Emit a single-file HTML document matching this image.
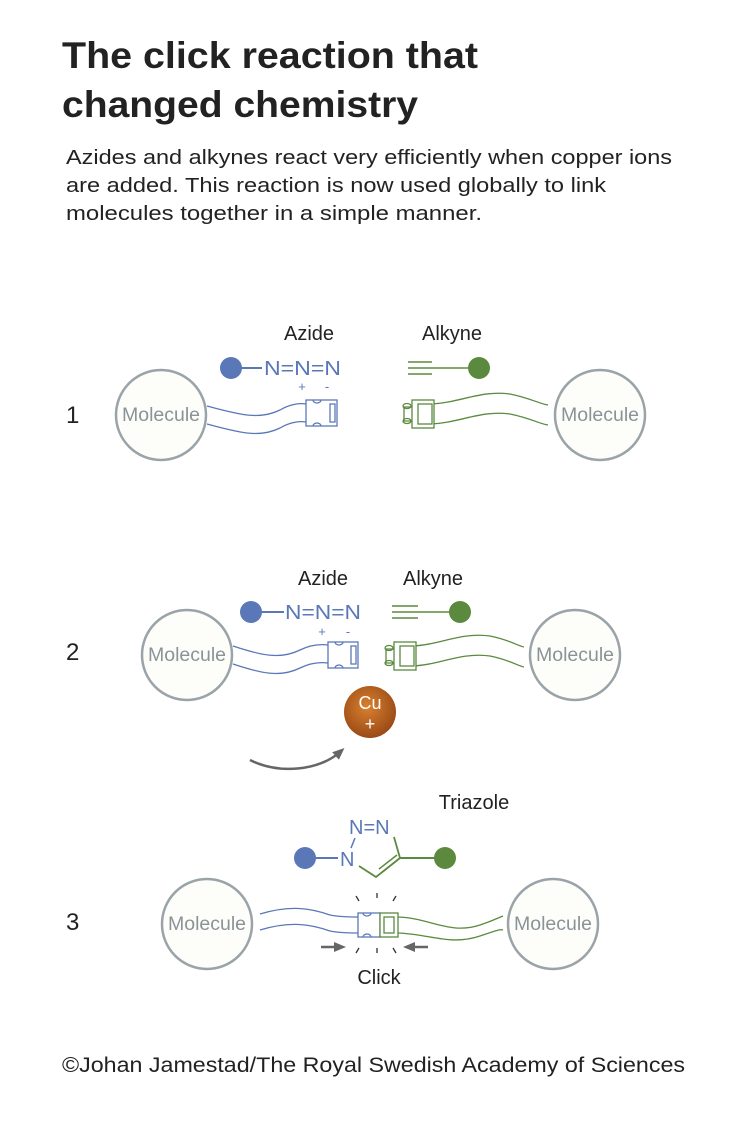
<!DOCTYPE html>
<html><head><meta charset="utf-8"><style>
html,body{margin:0;padding:0;background:#fff;width:754px;height:1123px;overflow:hidden}
svg{display:block}
text{font-family:"Liberation Sans","DejaVu Sans",sans-serif}
</style></head><body>
<svg width="754" height="1123" viewBox="0 0 754 1123" xmlns="http://www.w3.org/2000/svg">
<defs>
<radialGradient id="cu" cx="0.45" cy="0.4" r="0.6">
<stop offset="0" stop-color="#d9802f"/><stop offset="1" stop-color="#9a4a16"/>
</radialGradient>
<marker id="ah" markerUnits="userSpaceOnUse" markerWidth="12" markerHeight="10" refX="6" refY="5" orient="auto"><path d="M0,0 L12,5 L0,10 Z" fill="#666"/></marker>
</defs>
<text x="62" y="68" font-size="37" font-weight="bold" fill="#222" textLength="416" lengthAdjust="spacingAndGlyphs">The click reaction that</text>
<text x="62" y="117" font-size="37" font-weight="bold" fill="#222" textLength="356" lengthAdjust="spacingAndGlyphs">changed chemistry</text>
<text x="66" y="164" font-size="20" fill="#222" textLength="606" lengthAdjust="spacingAndGlyphs">Azides and alkynes react very efficiently when copper ions</text>
<text x="66" y="192" font-size="20" fill="#222" textLength="540" lengthAdjust="spacingAndGlyphs">are added. This reaction is now used globally to link</text>
<text x="66" y="220" font-size="20" fill="#222" textLength="416" lengthAdjust="spacingAndGlyphs">molecules together in a simple manner.</text>

<g fill="#fdfdfa" stroke="#9aa3a8" stroke-width="2.5">
<circle cx="161" cy="415" r="45"/><circle cx="600" cy="415" r="45"/>
<circle cx="187" cy="655" r="45"/><circle cx="575" cy="655" r="45"/>
<circle cx="207" cy="924" r="45"/><circle cx="553" cy="924" r="45"/>
</g>
<g font-size="19" fill="#8a9398" text-anchor="middle">
<text x="161" y="421" textLength="78" lengthAdjust="spacingAndGlyphs">Molecule</text><text x="600" y="421" textLength="78" lengthAdjust="spacingAndGlyphs">Molecule</text>
<text x="187" y="661" textLength="78" lengthAdjust="spacingAndGlyphs">Molecule</text><text x="575" y="661" textLength="78" lengthAdjust="spacingAndGlyphs">Molecule</text>
<text x="207" y="930" textLength="78" lengthAdjust="spacingAndGlyphs">Molecule</text><text x="553" y="930" textLength="78" lengthAdjust="spacingAndGlyphs">Molecule</text>
</g>
<g font-size="24" fill="#222">
<text x="66" y="423">1</text><text x="66" y="660">2</text><text x="66" y="930">3</text>
</g>
<g font-size="20" fill="#222" text-anchor="middle">
<text x="309" y="340">Azide</text><text x="452" y="340">Alkyne</text>
<text x="323" y="585">Azide</text><text x="433" y="585">Alkyne</text>
<text x="474" y="809">Triazole</text><text x="379" y="984">Click</text>
</g>

<!-- Panel 1 -->
<circle cx="231" cy="368" r="11" fill="#5a78b8"/>
<line x1="240" y1="368" x2="262" y2="368" stroke="#5a78b8" stroke-width="2"/>
<text x="264" y="375" font-size="20" fill="#5a78b8" textLength="77" lengthAdjust="spacingAndGlyphs">N=N=N</text>
<text x="302" y="391" font-size="13" fill="#5a78b8" text-anchor="middle">+</text>
<text x="327" y="391" font-size="13" fill="#5a78b8" text-anchor="middle">-</text>
<g stroke="#5a78b8" fill="none" stroke-width="1.3">
<path d="M207,406 C240,415 260,420 280,410 C290,404 300,403 306,404"/>
<path d="M207,424 C240,433 260,438 280,428 C290,422 300,421 306,422"/>
<rect x="306" y="400" width="31" height="26" fill="#fff"/>
<rect x="330" y="404" width="5" height="18"/>
<path d="M313,400 a4,3 0 0 0 8,0 M313,426 a4,3 0 0 1 8,0"/>
</g>
<g stroke="#5b8a3e" fill="none" stroke-width="1.5">
<line x1="408" y1="362" x2="432" y2="362"/><line x1="408" y1="368" x2="468" y2="368"/><line x1="408" y1="374" x2="432" y2="374"/>
</g>
<circle cx="479" cy="368" r="11" fill="#5b8a3e"/>
<g stroke="#5b8a3e" fill="none" stroke-width="1.3">
<path d="M430,404 C460,403 480,390 510,394 C530,398 540,404 548,405"/>
<path d="M430,424 C460,423 480,410 510,414 C530,418 540,424 548,425"/>
<rect x="412" y="400" width="22" height="28" fill="#fff"/>
<rect x="418" y="404" width="14" height="20"/>
<path d="M412,407 h-8 v14 h8"/>
<ellipse cx="407" cy="406" rx="4" ry="2.5"/><ellipse cx="407" cy="421" rx="4" ry="2.5"/>
</g>

<!-- Panel 2 -->
<circle cx="251" cy="612" r="11" fill="#5a78b8"/>
<line x1="260" y1="612" x2="284" y2="612" stroke="#5a78b8" stroke-width="2"/>
<text x="285" y="619" font-size="20" fill="#5a78b8" textLength="76" lengthAdjust="spacingAndGlyphs">N=N=N</text>
<text x="322" y="636" font-size="13" fill="#5a78b8" text-anchor="middle">+</text>
<text x="348" y="636" font-size="13" fill="#5a78b8" text-anchor="middle">-</text>
<g stroke="#5a78b8" fill="none" stroke-width="1.3">
<path d="M233,646 C260,655 280,660 300,650 C310,645 320,644 328,645"/>
<path d="M233,664 C260,673 280,678 300,668 C310,663 320,662 328,663"/>
<rect x="328" y="642" width="30" height="26" fill="#fff"/>
<rect x="351" y="646" width="5" height="18"/>
<path d="M335,642 a4,3 0 0 0 8,0 M335,668 a4,3 0 0 1 8,0"/>
</g>
<g stroke="#5b8a3e" fill="none" stroke-width="1.5">
<line x1="392" y1="606" x2="418" y2="606"/><line x1="392" y1="612" x2="450" y2="612"/><line x1="392" y1="618" x2="418" y2="618"/>
</g>
<circle cx="460" cy="612" r="11" fill="#5b8a3e"/>
<g stroke="#5b8a3e" fill="none" stroke-width="1.3">
<path d="M412,646 C440,645 460,632 490,636 C510,640 518,646 524,647"/>
<path d="M412,666 C440,665 460,652 490,656 C510,660 518,666 524,667"/>
<rect x="394" y="642" width="22" height="28" fill="#fff"/>
<rect x="400" y="646" width="14" height="20"/>
<path d="M394,649 h-8 v14 h8"/>
<ellipse cx="389" cy="648" rx="4" ry="2.5"/><ellipse cx="389" cy="663" rx="4" ry="2.5"/>
</g>
<circle cx="370" cy="712" r="26" fill="url(#cu)"/>
<text x="370" y="709" font-size="18" fill="#fff" text-anchor="middle">Cu</text>
<text x="370" y="730" font-size="18" fill="#fff" text-anchor="middle">+</text>
<path d="M250,760 C280,775 320,770 340,752" stroke="#666" stroke-width="2.5" fill="none" marker-end="url(#ah)"/>

<!-- Panel 3 -->
<circle cx="305" cy="858" r="11" fill="#5a78b8"/>
<line x1="314" y1="858" x2="338" y2="858" stroke="#5a78b8" stroke-width="2"/>
<text x="340" y="866" font-size="20" fill="#5a78b8">N</text>
<text x="349" y="834" font-size="20" fill="#5a78b8">N=N</text>
<line x1="355" y1="838" x2="351" y2="848" stroke="#5a78b8" stroke-width="1.5"/>
<line x1="394" y1="837" x2="400" y2="858" stroke="#5b8a3e" stroke-width="1.8"/>
<path d="M359,866 L376,877 L400,858" stroke="#5b8a3e" stroke-width="1.8" fill="none"/>
<line x1="379" y1="869" x2="397" y2="855" stroke="#5b8a3e" stroke-width="1.5"/>
<line x1="400" y1="858" x2="436" y2="858" stroke="#5b8a3e" stroke-width="2"/>
<circle cx="445" cy="858" r="11" fill="#5b8a3e"/>
<g stroke="#5a78b8" fill="none" stroke-width="1.3">
<path d="M260,914 C290,905 310,908 330,915 C340,917 350,917 358,917"/>
<path d="M260,930 C290,921 310,924 330,931 C340,933 350,933 358,933"/>
<rect x="358" y="913" width="22" height="24" fill="#fff"/>
<path d="M363,913 a4,3 0 0 0 8,0 M363,937 a4,3 0 0 1 8,0"/>
</g>
<g stroke="#5b8a3e" fill="none" stroke-width="1.3">
<rect x="380" y="913" width="18" height="24" fill="#fff"/>
<rect x="384" y="917" width="10" height="16"/>
<path d="M398,917 C430,918 450,935 480,925 C495,920 500,917 503,916"/>
<path d="M398,933 C430,934 450,946 480,936 C495,931 500,929 503,930"/>
</g>
<g stroke="#333" stroke-width="1.3">
<line x1="356" y1="896" x2="359" y2="901"/><line x1="377" y1="893" x2="377" y2="898"/><line x1="396" y1="896" x2="393" y2="901"/>
<line x1="356" y1="953" x2="359" y2="948"/><line x1="377" y1="953" x2="377" y2="948"/><line x1="396" y1="953" x2="393" y2="948"/>
</g>
<line x1="321" y1="947" x2="340" y2="947" stroke="#666" stroke-width="2.5" marker-end="url(#ah)"/>
<line x1="428" y1="947" x2="409" y2="947" stroke="#666" stroke-width="2.5" marker-end="url(#ah)"/>

<text x="62" y="1072" font-size="21" fill="#222" textLength="623" lengthAdjust="spacingAndGlyphs">©Johan Jamestad/The Royal Swedish Academy of Sciences</text>
</svg>
</body></html>
